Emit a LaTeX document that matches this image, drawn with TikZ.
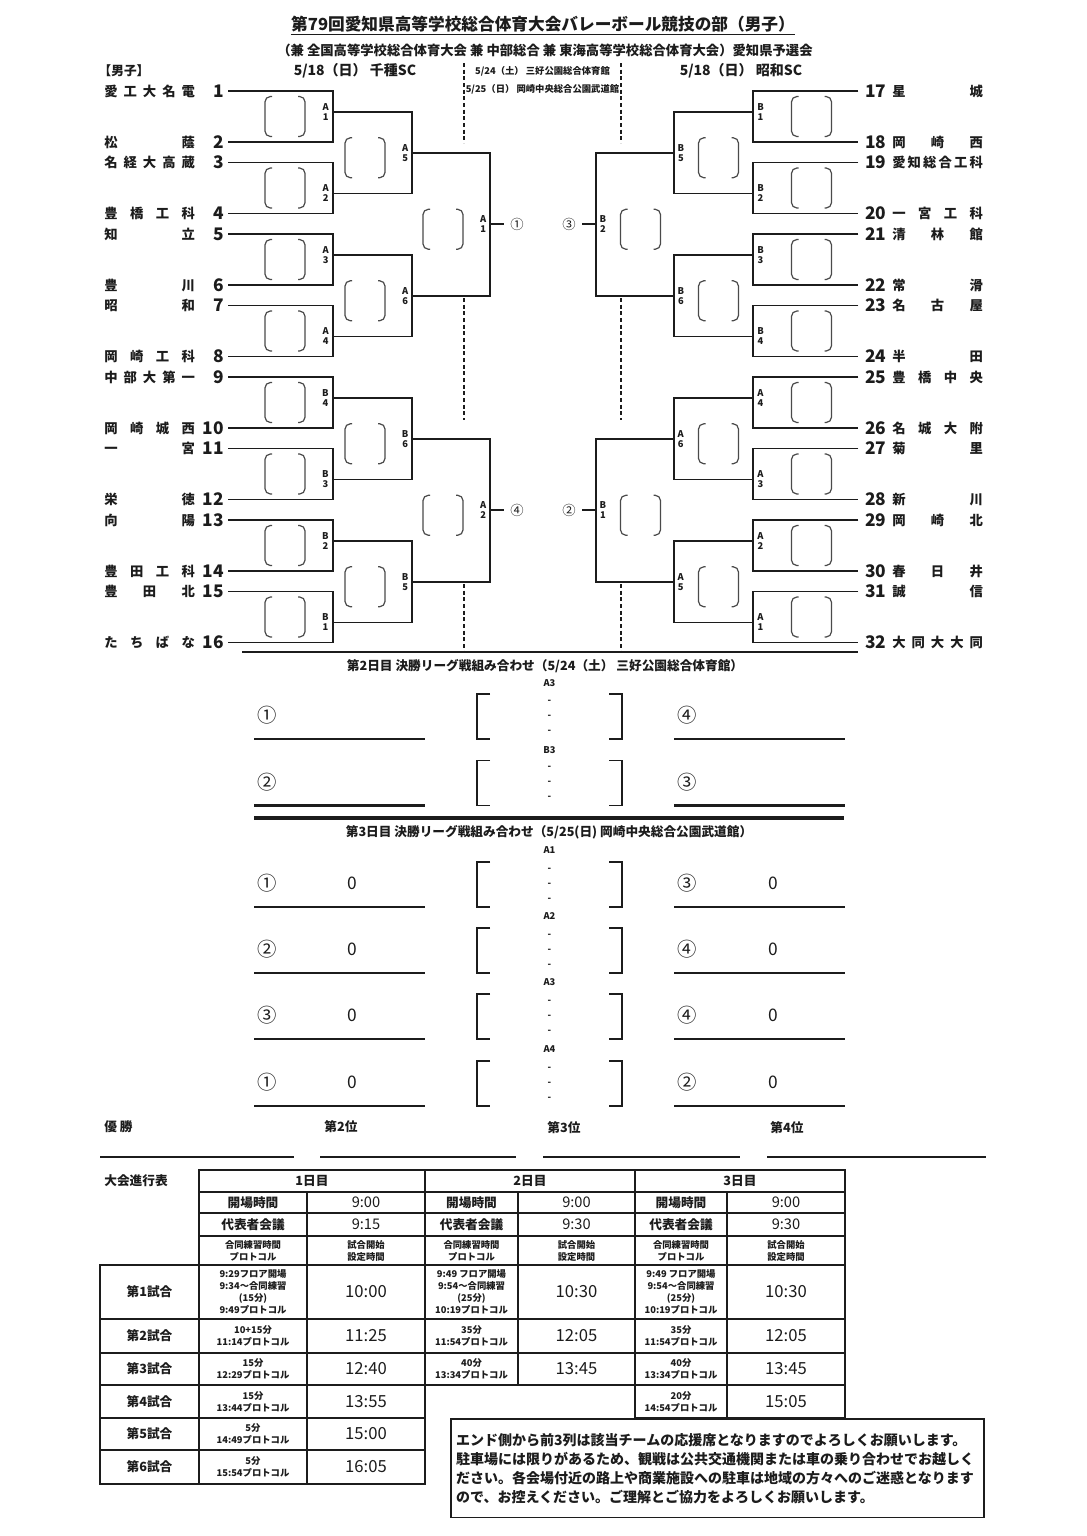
\documentclass[tikz,border=0pt]{standalone}
\usepackage{fontspec}
\setmainfont{Noto Sans CJK JP}
\usetikzlibrary{calc,positioning}
\definecolor{ink}{HTML}{1C1C1C}
\definecolor{slotgray}{HTML}{4A4A4A}
\newcommand{\fsz}[2]{\fontsize{#1}{#2}\selectfont}
\newcommand{\tjust}[1]{\makebox[68pt][s]{#1}}
\tikzset{
  tname/.style={anchor=west,inner sep=0pt,text=ink,font=\fsz{10pt}{12pt}\bfseries},
  tnum/.style={inner sep=0pt,text=ink,font=\fsz{13pt}{14pt}\bfseries},
  rlab/.style={inner sep=0pt,align=center,text=ink,font=\fsz{7pt}{7.5pt}\bfseries},
  bline/.style={draw=ink,line width=1.3pt},
  dashline/.style={draw=ink,line width=1.1pt,dash pattern=on 3pt off 2pt},
  circ/.style={inner sep=0pt,text=ink,font=\fsz{10pt}{10pt}},
  hd/.style={inner sep=0pt,text=ink,font=\fsz{9.5pt}{11pt}\bfseries},
  mline/.style={draw=ink,line width=1.4pt},
  uline/.style={draw=ink,line width=1.8pt},
  ptag/.style={inner sep=0pt,text=ink,font=\fsz{14.5pt}{15pt}},
  pzero/.style={inner sep=0pt,text=ink,font=\fsz{13pt}{14pt}},
  mtag/.style={inner sep=0pt,text=ink,font=\fsz{7pt}{8pt}\bfseries},
  tline/.style={draw=ink,line width=1.2pt},
  tc/.style={inner sep=0pt,align=center,text=ink,font=\fsz{9.5pt}{11pt}\bfseries},
  tt/.style={inner sep=0pt,align=center,text=ink,font=\fsz{11pt}{12pt}},
  tbig/.style={inner sep=0pt,align=center,text=ink,font=\fsz{12.5pt}{13pt}},
  ts/.style={inner sep=0pt,align=center,text=ink,font=\fsz{7pt}{9pt}\bfseries},
  slot/.pic={\draw[slotgray,line width=0.9pt,rounded corners=4pt]
    (-13,-20) -- (-20,-20) -- (-20,20) -- (-13,20)
    (13,-20) -- (20,-20) -- (20,20) -- (13,20);},
  mbox/.pic={\draw[mline]
    (-59.5,-22.5) -- (-72.5,-22.5) -- (-72.5,22.5) -- (-59.5,22.5)
    (59.5,-22.5) -- (72.5,-22.5) -- (72.5,22.5) -- (59.5,22.5);},
}

\begin{document}
\begin{tikzpicture}[x=0.75pt,y=-0.75pt]
\fill[white] (0,0) rectangle (1086,1536);
\useasboundingbox (0,0) rectangle (1086,1536);

% header
\node[inner sep=0pt,text=ink,font=\fsz{12.5pt}{14pt}\bfseries] (title) at (543,24) {第79回愛知県高等学校総合体育大会バレーボール競技の部（男子）};
\draw[ink,line width=1.2pt] ([yshift=-1.5pt]title.south west) -- ([yshift=-1.5pt]title.south east);
\node[inner sep=0pt,text=ink,font=\fsz{10pt}{12pt}\bfseries] (subt) at (545,50) {（兼 全国高等学校総合体育大会 兼 中部総合 兼 東海高等学校総合体育大会）愛知県予選会};
\node[hd] (sex) at (124,71) {【男子】};
\node[inner sep=0pt,text=ink,font=\fsz{10.5pt}{12pt}\bfseries] (venL) at (355,71) {5/18（日） 千種SC};
\node[inner sep=0pt,text=ink,font=\fsz{10.5pt}{12pt}\bfseries] (venR) at (741,71) {5/18（日） 昭和SC};
\node[mtag] (venM1) at (542.5,71) {5/24（土） 三好公園総合体育館};
\node[mtag] (venM2) at (542.5,89) {5/25（日） 岡崎中央総合公園武道館};

% left teams
\node[tnum,anchor=east] (t1)  at (224,91)    {1};  \node[tname] (n1)  at (104,91)    {\tjust{愛 工 大 名 電}};
\node[tnum,anchor=east] (t2)  at (224,142)   {2};  \node[tname] (n2)  at (104,142)   {\tjust{松 蔭}};
\node[tnum,anchor=east] (t3)  at (224,162.5) {3};  \node[tname] (n3)  at (104,162.5) {\tjust{名 経 大 高 蔵}};
\node[tnum,anchor=east] (t4)  at (224,213.5) {4};  \node[tname] (n4)  at (104,213.5) {\tjust{豊 橋 工 科}};
\node[tnum,anchor=east] (t5)  at (224,234)   {5};  \node[tname] (n5)  at (104,234)   {\tjust{知 立}};
\node[tnum,anchor=east] (t6)  at (224,285)   {6};  \node[tname] (n6)  at (104,285)   {\tjust{豊 川}};
\node[tnum,anchor=east] (t7)  at (224,305.5) {7};  \node[tname] (n7)  at (104,305.5) {\tjust{昭 和}};
\node[tnum,anchor=east] (t8)  at (224,356.5) {8};  \node[tname] (n8)  at (104,356.5) {\tjust{岡 崎 工 科}};
\node[tnum,anchor=east] (t9)  at (224,377)   {9};  \node[tname] (n9)  at (104,377)   {\tjust{中 部 大 第 一}};
\node[tnum,anchor=east] (t10) at (224,428)   {10}; \node[tname] (n10) at (104,428)   {\tjust{岡 崎 城 西}};
\node[tnum,anchor=east] (t11) at (224,448.5) {11}; \node[tname] (n11) at (104,448.5) {\tjust{一 宮}};
\node[tnum,anchor=east] (t12) at (224,499.5) {12}; \node[tname] (n12) at (104,499.5) {\tjust{栄 徳}};
\node[tnum,anchor=east] (t13) at (224,520)   {13}; \node[tname] (n13) at (104,520)   {\tjust{向 陽}};
\node[tnum,anchor=east] (t14) at (224,571)   {14}; \node[tname] (n14) at (104,571)   {\tjust{豊 田 工 科}};
\node[tnum,anchor=east] (t15) at (224,591.5) {15}; \node[tname] (n15) at (104,591.5) {\tjust{豊 田 北}};
\node[tnum,anchor=east] (t16) at (224,642.5) {16}; \node[tname] (n16) at (104,642.5) {\tjust{た ち ば な}};

% right teams
\node[tnum,anchor=west] (t17) at (865,91)    {17}; \node[tname] (n17) at (892,91)    {\tjust{星 城}};
\node[tnum,anchor=west] (t18) at (865,142)   {18}; \node[tname] (n18) at (892,142)   {\tjust{岡 崎 西}};
\node[tnum,anchor=west] (t19) at (865,162.5) {19}; \node[tname] (n19) at (892,162.5) {\tjust{愛 知 総 合 工 科}};
\node[tnum,anchor=west] (t20) at (865,213.5) {20}; \node[tname] (n20) at (892,213.5) {\tjust{一 宮 工 科}};
\node[tnum,anchor=west] (t21) at (865,234)   {21}; \node[tname] (n21) at (892,234)   {\tjust{清 林 館}};
\node[tnum,anchor=west] (t22) at (865,285)   {22}; \node[tname] (n22) at (892,285)   {\tjust{常 滑}};
\node[tnum,anchor=west] (t23) at (865,305.5) {23}; \node[tname] (n23) at (892,305.5) {\tjust{名 古 屋}};
\node[tnum,anchor=west] (t24) at (865,356.5) {24}; \node[tname] (n24) at (892,356.5) {\tjust{半 田}};
\node[tnum,anchor=west] (t25) at (865,377)   {25}; \node[tname] (n25) at (892,377)   {\tjust{豊 橋 中 央}};
\node[tnum,anchor=west] (t26) at (865,428)   {26}; \node[tname] (n26) at (892,428)   {\tjust{名 城 大 附}};
\node[tnum,anchor=west] (t27) at (865,448.5) {27}; \node[tname] (n27) at (892,448.5) {\tjust{菊 里}};
\node[tnum,anchor=west] (t28) at (865,499.5) {28}; \node[tname] (n28) at (892,499.5) {\tjust{新 川}};
\node[tnum,anchor=west] (t29) at (865,520)   {29}; \node[tname] (n29) at (892,520)   {\tjust{岡 崎 北}};
\node[tnum,anchor=west] (t30) at (865,571)   {30}; \node[tname] (n30) at (892,571)   {\tjust{春 日 井}};
\node[tnum,anchor=west] (t31) at (865,591.5) {31}; \node[tname] (n31) at (892,591.5) {\tjust{誠 信}};
\node[tnum,anchor=west] (t32) at (865,642.5) {32}; \node[tname] (n32) at (892,642.5) {\tjust{大 同 大 大 同}};

% match points
\coordinate (la1) at (333,112);   \coordinate (la2) at (333,193.5);
\coordinate (la3) at (333,255);   \coordinate (la4) at (333,336.5);
\coordinate (lb4) at (333,398);   \coordinate (lb3) at (333,479.5);
\coordinate (lb2) at (333,541);   \coordinate (lb1) at (333,622.5);
\coordinate (la5) at (412,152.75); \coordinate (la6) at (412,295.75);
\coordinate (lb6) at (412,438.75); \coordinate (lb5) at (412,581.75);
\coordinate (lsa1) at (490,224.25); \coordinate (lsa2) at (490,510.25);
\coordinate (rb1) at (753,112);   \coordinate (rb2) at (753,193.5);
\coordinate (rb3) at (753,255);   \coordinate (rb4) at (753,336.5);
\coordinate (ra4) at (753,398);   \coordinate (ra3) at (753,479.5);
\coordinate (ra2) at (753,541);   \coordinate (ra1) at (753,622.5);
\coordinate (rb5) at (674,152.75); \coordinate (rb6) at (674,295.75);
\coordinate (ra6) at (674,438.75); \coordinate (ra5) at (674,581.75);
\coordinate (rsb2) at (596,224.25); \coordinate (rsb1) at (596,510.25);

% left bracket
\foreach \m/\a/\b/\gl/\gn in {la1/t1/t2/A/1, la2/t3/t4/A/2, la3/t5/t6/A/3, la4/t7/t8/A/4,
    lb4/t9/t10/B/4, lb3/t11/t12/B/3, lb2/t13/t14/B/2, lb1/t15/t16/B/1}{
  \draw[bline] ([xshift=3pt]\a.east) -| (\m) |- ([xshift=3pt]\b.east);
  \node[rlab,anchor=east] (\m-t) at ([xshift=-3pt]\m) {\gl\\\gn};
}
\foreach \m/\a/\b/\gl/\gn in {la5/la1/la2/A/5, la6/la3/la4/A/6, lb6/lb4/lb3/B/6, lb5/lb2/lb1/B/5,
    lsa1/la5/la6/A/1, lsa2/lb6/lb5/A/2}{
  \draw[bline] (\a) -| (\m) |- (\b);
  \node[rlab,anchor=east] (\m-t) at ([xshift=-2.5pt]\m) {\gl\\\gn};
}

% right bracket
\foreach \m/\a/\b/\gl/\gn in {rb1/t17/t18/B/1, rb2/t19/t20/B/2, rb3/t21/t22/B/3, rb4/t23/t24/B/4,
    ra4/t25/t26/A/4, ra3/t27/t28/A/3, ra2/t29/t30/A/2, ra1/t31/t32/A/1}{
  \draw[bline] ([xshift=-5pt]\a.west) -| (\m) |- ([xshift=-5pt]\b.west);
  \node[rlab,anchor=west] (\m-t) at ([xshift=3pt]\m) {\gl\\\gn};
}
\foreach \m/\a/\b/\gl/\gn in {rb5/rb1/rb2/B/5, rb6/rb3/rb4/B/6, ra6/ra4/ra3/A/6, ra5/ra2/ra1/A/5,
    rsb2/rb5/rb6/B/2, rsb1/ra6/ra5/B/1}{
  \draw[bline] (\a) -| (\m) |- (\b);
  \node[rlab,anchor=west] (\m-t) at ([xshift=2.5pt]\m) {\gl\\\gn};
}

% seeds into the league
\node[circ] (c1) at (517,224.25) {①};
\node[circ] (c4) at (517,510.25) {④};
\node[circ] (c3) at (569,224.25) {③};
\node[circ] (c2) at (569,510.25) {②};
\draw[bline] (lsa1) -- ([xshift=-4.5pt]c1.west);
\draw[bline] (lsa2) -- ([xshift=-4.5pt]c4.west);
\draw[bline] (rsb2) -- ([xshift=4.5pt]c3.east);
\draw[bline] (rsb1) -- ([xshift=4.5pt]c2.east);

% score slots
\foreach \y in {116.5,188,259.5,331,402.5,474,545.5,617}{\pic at (285,\y) {slot}; \pic at (811.5,\y) {slot};}
\foreach \y in {157.75,300.75,443.75,586.75}{\pic at (365,\y) {slot}; \pic at (718.5,\y) {slot};}
\foreach \y in {229.25,515.25}{\pic at (443,\y) {slot}; \pic at (640.5,\y) {slot};}

% venue split
\foreach \x in {464,621}{
  \draw[dashline] (\x,63) -- (\x,143) (\x,298) -- (\x,420) (\x,584) -- (\x,652);
}
\draw[bline] (242,652) -- (858,652);

% day 2 league
\node[hd] (day2) at (545,666) {第2日目 決勝リーグ戦組み合わせ（5/24（土） 三好公園総合体育館）};
\foreach \r/\ym/\g/\pl/\pr in {1/716.5/A3/①/④, 2/783/B3/②/③}{
  \node[mtag] (d2g\r) at (549.5,\ym-33) {\g};
  \pic at (549.5,\ym) {mbox};
  \foreach \k in {-15,0,15} \node[mtag] (d2s\r\k) at (549.5,{\ym+\k}) {-};
  \node[ptag] (d2l\r) at (267,\ym-1) {\pl};
  \node[ptag] (d2r\r) at (687,\ym-1) {\pr};
  \draw[uline] (254,\ym+22.5) -- (425,\ym+22.5) (674,\ym+22.5) -- (845,\ym+22.5);
}
\draw[draw=ink,line width=2.6pt] (254,818) -- (844,818);

% day 3 league
\node[hd] (day3) at (549,832) {第3日目 決勝リーグ戦組み合わせ（5/25(日) 岡崎中央総合公園武道館）};
\foreach \r/\ym/\g/\pl/\pr in {1/884.5/A1/①/③, 2/950.5/A2/②/④, 3/1016.5/A3/③/④, 4/1083.5/A4/①/②}{
  \node[mtag] (d3g\r) at (549.5,\ym-34.5) {\g};
  \pic at (549.5,\ym) {mbox};
  \foreach \k in {-15,0,15} \node[mtag] (d3s\r\k) at (549.5,{\ym+\k}) {-};
  \node[ptag] (d3l\r) at (267,\ym-1.5) {\pl};
  \node[pzero] (d3lz\r) at (352,\ym-1.5) {0};
  \node[ptag] (d3r\r) at (687,\ym-1.5) {\pr};
  \node[pzero] (d3rz\r) at (773,\ym-1.5) {0};
  \draw[uline] (254,\ym+22.5) -- (425,\ym+22.5) (674,\ym+22.5) -- (845,\ym+22.5);
}

% final standing
\node[hd,anchor=west] (win) at (104,1127) {優 勝};
\node[hd] (rk2) at (341,1127) {第2位};
\node[hd] (rk3) at (564,1128) {第3位};
\node[hd] (rk4) at (787,1128) {第4位};
\draw[draw=ink,line width=2.2pt] (100,1157) -- (294,1157) (320,1157) -- (516,1157)
  (543,1157) -- (740,1157) (767,1157) -- (986,1157);

% schedule table
\node[hd] (prog) at (136,1181) {大会進行表};
\draw[tline] (199,1170) rectangle (845,1265);
\draw[tline] (199,1192) -- (845,1192) (199,1213) -- (845,1213) (199,1236) -- (845,1236);
\draw[tline] (425,1170) -- (425,1265) (635,1170) -- (635,1265);
\draw[tline] (307,1192) -- (307,1265) (518,1192) -- (518,1265) (727,1192) -- (727,1265);
\draw[tline] (100,1265) rectangle (845,1385);
\draw[tline] (100,1319) -- (845,1319) (100,1353) -- (845,1353);
\foreach \x in {199,307,425,518,635,727} \draw[tline] (\x,1265) -- (\x,1385);
\draw[tline] (100,1385) -- (100,1484) -- (425,1484) -- (425,1385);
\draw[tline] (199,1385) -- (199,1484) (307,1385) -- (307,1484);
\draw[tline] (100,1418) -- (425,1418) (100,1450) -- (425,1450);
\draw[tline] (635,1385) -- (635,1418) -- (845,1418) -- (845,1385) (727,1385) -- (727,1418);

\node[tc] (dh1) at (312,1181) {1日目};
\node[tc] (dh2) at (530,1181) {2日目};
\node[tc] (dh3) at (740,1181) {3日目};
\foreach \d/\xa/\xb/\tb in {1/253/366/9:15, 2/471.5/576.5/9:30, 3/681/786/9:30}{
  \node[tc] (op\d)  at (\xa,1202.5) {開場時間};
  \node[tt] (opt\d) at (\xb,1202.5) {9:00};
  \node[tc] (mt\d)  at (\xa,1224.5) {代表者会議};
  \node[tt] (mtt\d) at (\xb,1224.5) {\tb};
  \node[ts] (ph\d)  at (\xa,1250.5) {合同練習時間\\プロトコル};
  \node[ts] (sh\d)  at (\xb,1250.5) {試合開始\\設定時間};
}
\foreach \g/\y in {1/1292,2/1336,3/1369,4/1401.5,5/1434,6/1467}
  \node[tc] (gm\g) at (149.5,\y) {第\g 試合};

\node[ts] (g1a) at (253,1292) {9:29フロア開場\\9:34～合同練習\\(15分)\\9:49プロトコル};
\node[tbig] (g1b) at (366,1292) {10:00};
\node[ts] (g1c) at (471.5,1292) {9:49 フロア開場\\9:54～合同練習\\(25分)\\10:19プロトコル};
\node[tbig] (g1d) at (576.5,1292) {10:30};
\node[ts] (g1e) at (681,1292) {9:49 フロア開場\\9:54～合同練習\\(25分)\\10:19プロトコル};
\node[tbig] (g1f) at (786,1292) {10:30};
\node[ts] (g2a) at (253,1336) {10+15分\\11:14プロトコル};
\node[tbig] (g2b) at (366,1336) {11:25};
\node[ts] (g2c) at (471.5,1336) {35分\\11:54プロトコル};
\node[tbig] (g2d) at (576.5,1336) {12:05};
\node[ts] (g2e) at (681,1336) {35分\\11:54プロトコル};
\node[tbig] (g2f) at (786,1336) {12:05};
\node[ts] (g3a) at (253,1369) {15分\\12:29プロトコル};
\node[tbig] (g3b) at (366,1369) {12:40};
\node[ts] (g3c) at (471.5,1369) {40分\\13:34プロトコル};
\node[tbig] (g3d) at (576.5,1369) {13:45};
\node[ts] (g3e) at (681,1369) {40分\\13:34プロトコル};
\node[tbig] (g3f) at (786,1369) {13:45};
\node[ts] (g4a) at (253,1401.5) {15分\\13:44プロトコル};
\node[tbig] (g4b) at (366,1401.5) {13:55};
\node[ts] (g4e) at (681,1401.5) {20分\\14:54プロトコル};
\node[tbig] (g4f) at (786,1401.5) {15:05};
\node[ts] (g5a) at (253,1434) {5分\\14:49プロトコル};
\node[tbig] (g5b) at (366,1434) {15:00};
\node[ts] (g6a) at (253,1467) {5分\\15:54プロトコル};
\node[tbig] (g6b) at (366,1467) {16:05};

% notice
\node[draw=ink,line width=1.3pt,anchor=north west,minimum height=74pt,text width=392pt,
  inner xsep=4pt,align=left,text=ink,font=\fsz{10.5pt}{14.25pt}\bfseries] (note) at (450,1418)
  {エンド側から前3列は該当チームの応援席となりますのでよろしくお願いします。\\
   駐車場には限りがあるため、観戦は公共交通機関または車の乗り合わせでお越しく\\
   ださい。各会場付近の路上や商業施設への駐車は地域の方々へのご迷惑となります\\
   ので、お控えください。ご理解とご協力をよろしくお願いします。};
\end{tikzpicture}
\end{document}
